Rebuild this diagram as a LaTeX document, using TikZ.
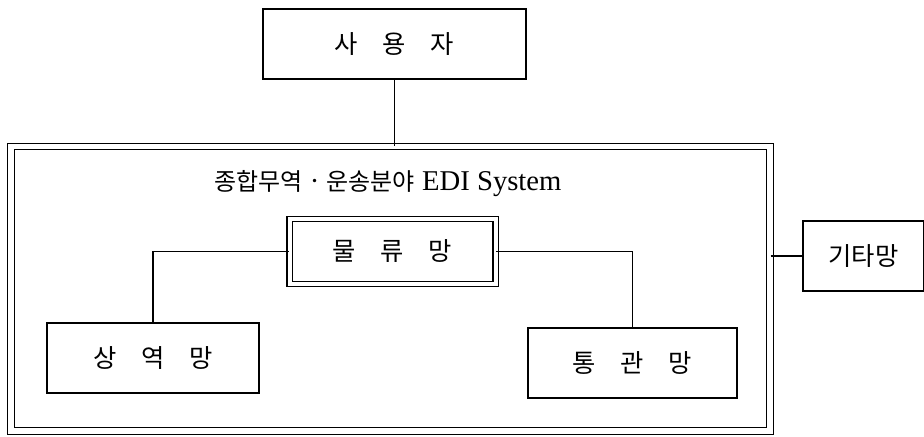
\documentclass[tikz,border=0pt]{standalone}
\usepackage{fontspec}
\setmainfont{Liberation Serif}
\newfontfamily\kr{Noto Sans CJK KR}
\newcommand\widesp{\spaceskip=18.5pt\relax}
\begin{document}
\begin{tikzpicture}[x=0.75pt,y=-0.75pt,
  box/.style={draw,line width=0.9pt,inner sep=0pt,font=\kr\fontsize{19}{22}\selectfont\widesp},
  dbox/.style={draw,line width=0.8pt,double,double distance=3pt,inner sep=0pt,font=\kr\fontsize{19}{22}\selectfont\widesp},
  conn/.style={line width=0.9pt}]
\useasboundingbox (0,0) rectangle (924,436);
\node[draw,line width=0.9pt,double,double distance=4pt,minimum width=759*0.75pt,minimum height=284.5*0.75pt] (sys) at (390.5,288.75) {};
\node[font=\fontsize{21.5}{24}\selectfont] (title) at (388,184) {{\kr\fontsize{18}{20}\selectfont 종합무역} · {\kr\fontsize{18}{20}\selectfont 운송분야} EDI System};
\node[box,minimum width=263*0.75pt,minimum height=70*0.75pt] (user) at (394.5,44) {사 용 자};
\node[dbox,minimum width=206*0.75pt,minimum height=65.5*0.75pt] (mul) at (392.5,251.5) {물 류 망};
\node[box,minimum width=212*0.75pt,minimum height=70*0.75pt] (sang) at (153,358) {상 역 망};
\node[box,minimum width=209*0.75pt,minimum height=70*0.75pt] (tong) at (632.5,363) {통 관 망};
\node[box,minimum width=121*0.75pt,minimum height=70*0.75pt] (gita) at (863.5,256) {기타망};
\draw[conn] (user.south) -- (user.south |- sys.north);
\draw[conn] (mul.west) -| (sang.north);
\draw[conn] (mul.east) -| (tong.north);
\draw[conn] (gita.west -| sys.east) -- (gita.west);
\end{tikzpicture}
\end{document}
